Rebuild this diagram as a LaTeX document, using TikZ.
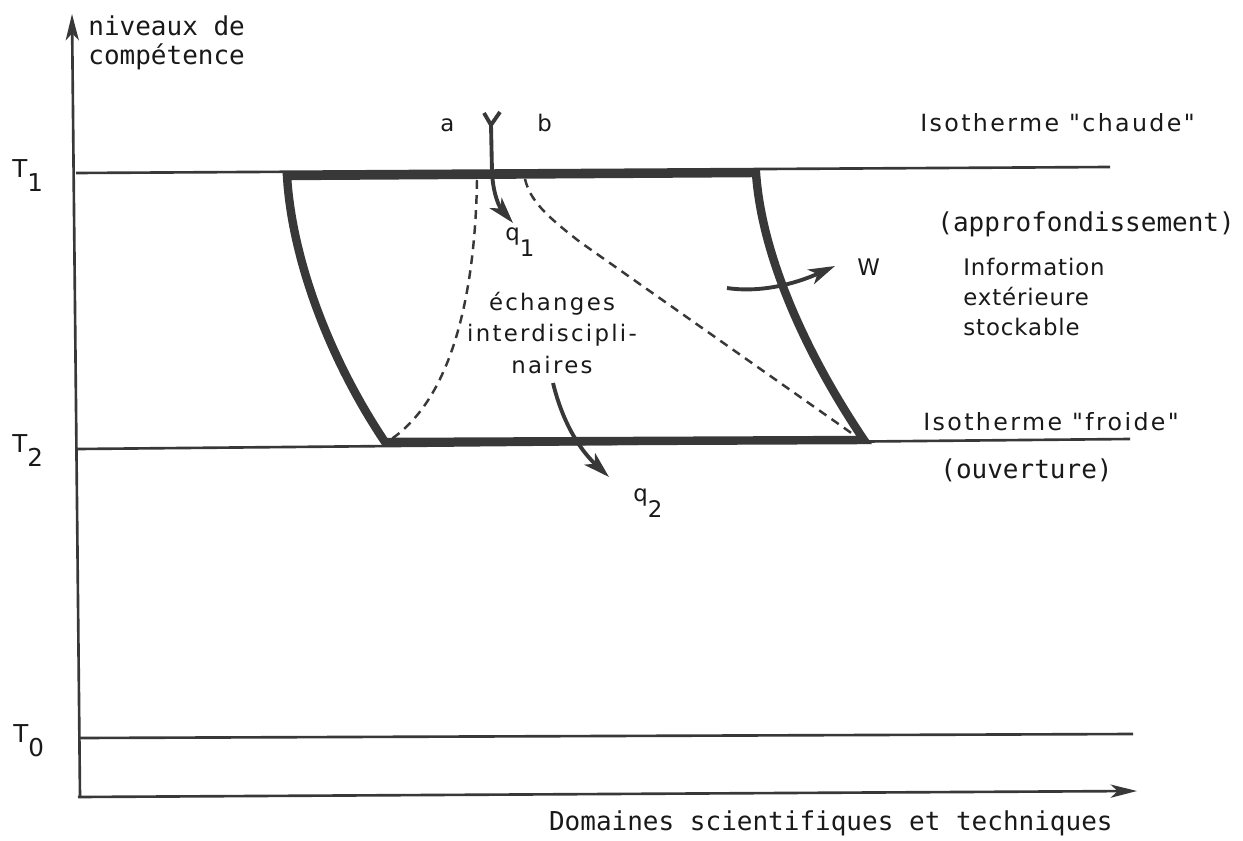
\documentclass[tikz,border=0pt]{standalone}
\usepackage{fontspec}
\usetikzlibrary{arrows.meta}
\newfontfamily\monofont{DejaVu Sans Mono}
\newfontfamily\propfont[LetterSpace=4]{DejaVu Sans}
\newfontfamily\widefont[LetterSpace=10]{DejaVu Sans}
\newfontfamily\plainfont{DejaVu Sans}
\definecolor{ink}{rgb}{0.22,0.22,0.22}
\definecolor{txt}{rgb}{0.1,0.1,0.1}
\begin{document}
\begin{tikzpicture}[x=0.02cm,y=-0.02cm,
  thinline/.style={line width=1.5pt, draw=ink},
  thickline/.style={line width=4.8pt, draw=ink, line join=miter},
  dashline/.style={line width=1.4pt, draw=ink, dash pattern=on 5pt off 3.6pt},
  axisarrow/.style={thinline, -{Stealth[length=15pt,width=7.5pt,inset=4pt]}},
  flow/.style={line width=2.2pt, draw=ink, -{Stealth[length=15pt,width=9pt,inset=4pt]}},
  mono/.style={inner sep=0pt, anchor=base west, text=txt, font=\monofont\fontsize{14.8pt}{17pt}\selectfont},
  lab/.style={inner sep=0pt, anchor=base west, text=txt, font=\propfont\fontsize{13pt}{16pt}\selectfont},
  iso/.style={inner sep=0pt, anchor=base west, text=txt, font=\widefont\fontsize{13.5pt}{16pt}\selectfont},
  inlab/.style={inner sep=0pt, anchor=base, text=txt, font=\widefont\fontsize{13pt}{15pt}\selectfont},
  small/.style={inner sep=0pt, anchor=base west, text=txt, font=\plainfont\fontsize{13pt}{15pt}\selectfont},
  tlab/.style={inner sep=0pt, anchor=base west, text=txt, font=\plainfont\fontsize{14pt}{17pt}\selectfont}
]
\useasboundingbox (0,0) rectangle (1243,841);

% axes
\coordinate (ybot) at (80,797);
\coordinate (ytop) at (72,14);
\coordinate (xleft) at (78,797);
\coordinate (xright) at (1137,791);
\draw[axisarrow] (ybot) -- (ytop);
\draw[axisarrow] (xleft) -- (xright);

% isothermes
\coordinate (t1l) at (76,173);  \coordinate (t1r) at (1110,167);
\coordinate (t2l) at (78,449);  \coordinate (t2r) at (1130,439);
\coordinate (t0l) at (79,738);  \coordinate (t0r) at (1133,734);
\draw[thinline] (t1l) -- (t1r);
\draw[thinline] (t2l) -- (t2r);
\draw[thinline] (t0l) -- (t0r);

% cycle
\coordinate (tl) at (287,176);
\coordinate (tr) at (756,173);
\coordinate (br) at (864,440);
\coordinate (bl) at (385,442);
\draw[thickline] (tl) -- (tr) .. controls (762,260) and (810,360) .. (br)
   -- (bl) .. controls (330,360) and (292,260) .. cycle;

% dashed curves
\coordinate (da) at (477,180);
\coordinate (db) at (525,179);
\coordinate (dbm) at (580,242);
\coordinate (dae) at (390,440);
\coordinate (dbe) at (857,437);
\draw[dashline] (da) .. controls (475,300) and (450,400) .. (dae);
\draw[dashline] (db) .. controls (530,200) and (545,215) .. (dbm) -- (dbe);

% arrow a/b -> q1
\coordinate (ya) at (484,113);
\coordinate (yb) at (500,112);
\coordinate (yc) at (491,125);
\coordinate (ys) at (492,172);
\coordinate (q1tip) at (513,223);
\draw[line width=2.2pt, draw=ink] (ya) -- (yc) -- (yb);
\draw[flow] (yc) -- (ys) .. controls (493,195) and (500,208) .. (q1tip);

% W arrow
\coordinate (ws) at (727,288);
\coordinate (wtip) at (835,266);
\draw[flow] (ws) .. controls (760,293) and (795,284) .. (wtip);

% q2 arrow
\coordinate (q2s) at (553,383);
\coordinate (q2tip) at (609,477);
\draw[flow] (q2s) .. controls (562,420) and (578,448) .. (q2tip);

% labels
\node[mono] (niv1) at (88,36) {niveaux de};
\node[mono] (niv2) at (88,65) {compétence};
\node[mono, anchor=base east] (dom) at (1113,830) {Domaines scientifiques et techniques};
\node[mono] (appro) at (937,232) {(approfondissement)};
\node[mono] (ouv) at (940,478) {(ouverture)};

\node[iso] (chaude) at (920,132) {Isotherme "chaude"};
\node[iso] (froide) at (923,430) {Isotherme "froide"};
\node[lab] (info1) at (963,275) {Information};
\node[lab] (info2) at (963,305) {extérieure};
\node[lab] (info3) at (963,335) {stockable};
\node[small] (W) at (857,275) {W};

\node[small] (a) at (440,132) {a};
\node[small] (b) at (537,132) {b};
\node[small] (q1) at (505,240) {q\raisebox{-9.5pt}{1}};
\node[small] (q2) at (633,501) {q\raisebox{-9.5pt}{2}};
\node[inlab] (ech1) at (552,310) {échanges};
\node[inlab] (ech2) at (552,341) {interdiscipli-};
\node[inlab] (ech3) at (552,373) {naires};

\node[tlab] (T1) at (12,177) {T\raisebox{-8.5pt}{1}};
\node[tlab] (T2) at (12,452) {T\raisebox{-8.5pt}{2}};
\node[tlab] (T0) at (13,742) {T\raisebox{-8.5pt}{0}};
\end{tikzpicture}
\end{document}
